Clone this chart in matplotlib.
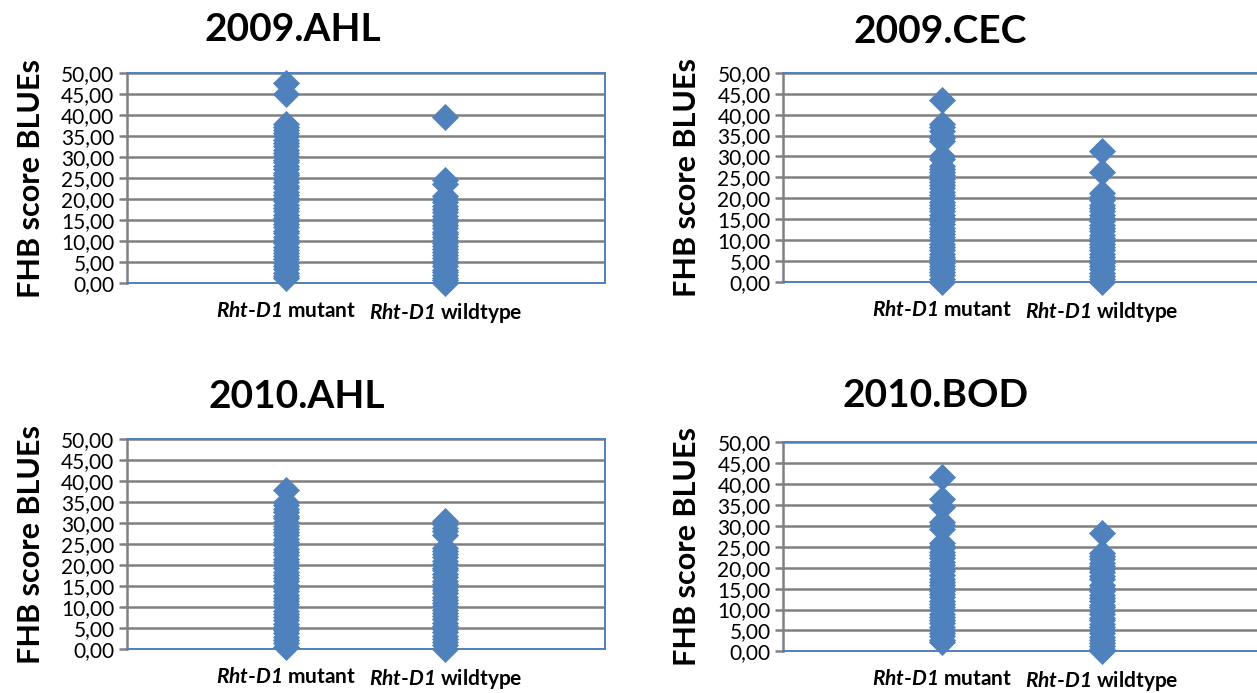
import matplotlib
matplotlib.use("Agg")
import matplotlib.pyplot as plt
from matplotlib.ticker import FuncFormatter, MultipleLocator

plt.rcParams['font.family'] = ['Lato', 'DejaVu Sans']
plt.rcParams['mathtext.fontset'] = 'custom'
plt.rcParams['mathtext.it'] = 'Lato:italic:bold'
# digits inside math are set in the rm font, so make that italic bold too
plt.rcParams['mathtext.rm'] = 'Lato:italic:bold'

# FHB score BLUEs, one list per environment and genotype
ahl09_mut = [47.7, 45.0, 38.0, 37.3, 36.6, 35.7, 35.1, 34.2, 33.3, 32.7, 31.8, 31.1,
             30.3, 29.4, 28.8, 27.9, 27.2, 26.3, 25.7, 24.8, 24.1, 23.2, 22.6, 21.7,
             21.0, 20.2, 19.5, 18.6, 17.8, 17.2, 16.3, 15.5, 14.8, 14.1, 13.2, 12.4,
             11.8, 10.9, 10.1, 9.4, 8.6, 7.9, 7.0, 6.3, 5.6, 4.7, 4.0, 3.3, 2.4, 1.7, 1.1]
ahl09_wt = [39.5, 24.5, 23.7, 20.8, 20.1, 19.2, 18.3, 17.6, 17.0, 16.0, 15.3, 14.5,
            13.8, 13.1, 12.2, 11.7, 10.9, 10.2, 9.5, 8.8, 8.1, 7.4, 6.7, 6.0, 5.2,
            4.6, 3.9, 3.1, 2.5, 1.8, 1.2, 0.6, 0.0]
cec09_mut = [43.5, 37.8, 37.1, 36.1, 35.0, 34.3, 33.6, 30.0, 29.3, 27.8, 27.1, 26.2,
             25.5, 24.6, 23.8, 23.1, 22.4, 21.5, 20.8, 20.1, 19.2, 18.4, 17.7, 16.9,
             16.1, 15.4, 14.5, 13.8, 13.0, 12.3, 11.4, 10.7, 10.0, 9.1, 8.4, 7.7, 6.8,
             6.1, 5.4, 4.6, 3.9, 3.0, 2.3, 1.6, 0.8, 0.1]
cec09_wt = [31.3, 26.4, 21.2, 20.4, 19.7, 18.5, 17.8, 16.9, 16.1, 15.2, 14.6, 13.7,
            12.9, 12.1, 11.3, 10.6, 9.8, 9.1, 8.3, 7.6, 6.8, 6.1, 5.2, 4.5, 3.8, 3.0,
            2.2, 1.5, 0.7, 0.0]
ahl10_mut = [38.0, 35.0, 34.3, 33.4, 32.7, 31.8, 31.1, 30.2, 29.4, 28.5, 27.8, 27.1,
             26.2, 25.4, 24.7, 23.8, 23.1, 22.3, 21.4, 20.8, 19.9, 19.2, 18.3, 17.6,
             16.8, 16.1, 15.2, 14.5, 13.8, 12.9, 12.2, 11.4, 10.6, 9.9, 9.0, 8.3, 7.5,
             6.8, 5.9, 5.2, 4.4, 3.7, 2.8, 2.1, 1.3, 0.4]
ahl10_wt = [30.5, 29.7, 28.8, 28.1, 27.2, 24.0, 23.4, 22.5, 21.8, 20.9, 20.2, 19.3,
            18.7, 17.8, 17.1, 16.2, 15.5, 14.8, 13.9, 13.2, 12.4, 11.7, 10.8, 10.1,
            9.3, 8.6, 7.7, 7.0, 6.2, 5.5, 4.6, 3.9, 3.1, 2.4, 1.5, 0.8, 0.0]
bod10_mut = [41.6, 36.5, 34.6, 31.0, 30.2, 29.3, 26.0, 25.3, 24.6, 23.7, 23.0, 22.2,
             21.3, 20.6, 19.8, 19.1, 18.3, 17.4, 16.7, 15.9, 15.2, 14.4, 13.6, 12.9,
             12.0, 11.3, 10.5, 9.8, 8.9, 8.2, 7.4, 6.7, 5.8, 5.1, 4.3, 3.6, 2.8, 2.2]
bod10_wt = [28.3, 23.5, 22.8, 22.1, 21.2, 20.5, 19.6, 18.9, 18.1, 17.3, 15.8, 15.1,
            14.4, 13.5, 12.8, 12.1, 11.2, 10.5, 9.7, 9.0, 8.1, 7.4, 6.6, 5.9, 5.0,
            4.3, 3.5, 2.8, 1.9, 1.2, 0.5, 0.0]

titles = ['2009.AHL', '2009.CEC', '2010.AHL', '2010.BOD']
series = [(ahl09_mut, ahl09_wt), (cec09_mut, cec09_wt),
          (ahl10_mut, ahl10_wt), (bod10_mut, bod10_wt)]
group_labels = [r'$\mathit{Rht}$-$\mathit{D1}$ mutant', r'$\mathit{Rht}$-$\mathit{D1}$ wildtype']
ylabel = 'FHB score BLUEs'

blue = '#4f81bd'
grid_gray = '#808080'

fig = plt.figure(figsize=(12.57, 6.93), dpi=100)

# axes boxes in figure fractions (left, bottom, width, height)
boxes = [(0.101, 0.592, 0.380, 0.302), (0.623, 0.593, 0.380, 0.302),
         (0.101, 0.064, 0.380, 0.302), (0.623, 0.060, 0.380, 0.302)]
title_pos = [(0.233, 0.958), (0.748, 0.955), (0.236, 0.428), (0.744, 0.430)]

for box, tpos, title, (mut, wt) in zip(boxes, title_pos, titles, series):
    ax = fig.add_axes(box)
    ax.scatter([1] * len(mut), mut, marker='D', s=190, color=blue, linewidths=0,
               zorder=3, clip_on=False)
    ax.scatter([2] * len(wt), wt, marker='D', s=190, color=blue, linewidths=0,
               zorder=3, clip_on=False)
    ax.set_xlim(0, 3)
    ax.set_ylim(0, 50)
    ax.yaxis.set_major_locator(MultipleLocator(5))
    ax.yaxis.set_major_formatter(FuncFormatter(lambda v, p: f'{v:.2f}'.replace('.', ',')))
    ax.grid(axis='y', color=grid_gray, linewidth=1.8)
    ax.set_axisbelow(True)
    for s in ['top', 'right', 'bottom']:
        ax.spines[s].set_color(blue)
        ax.spines[s].set_linewidth(1.4)
    ax.spines['left'].set_color(grid_gray)
    ax.spines['left'].set_linewidth(1.8)
    ax.spines['left'].set_zorder(2)
    ax.tick_params(axis='y', direction='out', length=6, width=1.8, color=grid_gray,
                   labelsize=15, pad=3)
    ax.set_xticks([1, 2])
    ax.set_xticklabels(group_labels, fontsize=15, fontweight='bold')
    ax.tick_params(axis='x', length=0, pad=13)
    ax.set_ylabel(ylabel, fontsize=22, fontweight='bold')
    ax.yaxis.set_label_coords(-0.172, 0.5)
    fig.text(tpos[0], tpos[1], title, fontsize=28, fontweight='bold',
             ha='center', va='center')

fig.savefig('out.png', dpi=100)
